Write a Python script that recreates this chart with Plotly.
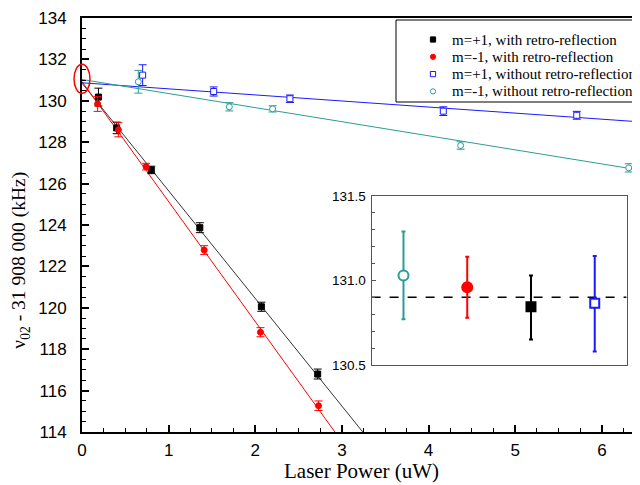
import plotly.graph_objects as go

# ---- data ----
x_p_with = [0.19, 0.40, 0.80, 1.36, 2.07, 2.72]
y_p_with = [130.18, 128.69, 126.66, 123.87, 120.05, 116.80]
e_p_with = [0.43, 0.28, 0.18, 0.24, 0.22, 0.24]

x_m_with = [0.18, 0.42, 0.74, 1.41, 2.06, 2.73]
y_m_with = [129.85, 128.60, 126.82, 122.79, 118.82, 115.27]
e_m_with = [0.36, 0.34, 0.16, 0.21, 0.22, 0.23]

x_p_without = [0.70, 1.52, 2.40, 4.17, 5.71]
y_p_without = [131.24, 130.45, 130.10, 129.50, 129.30]
e_p_without = [0.50, 0.22, 0.18, 0.21, 0.19]

x_m_without = [0.65, 1.70, 2.20, 4.37, 6.31]
y_m_without = [130.92, 129.71, 129.61, 127.84, 126.76]
e_m_without = [0.55, 0.20, 0.15, 0.18, 0.20]

# linear fits (intercept, slope)
fit_p_with = (130.85, -5.20)
fit_m_with = (130.93, -5.80)
fit_p_without = (130.87, -0.293)
fit_m_without = (131.03, -0.68)

# inset: zero-power intercepts
inset_x = [1, 2, 3, 4]
inset_y = [131.03, 130.96, 130.845, 130.865]
inset_hi = [131.29, 131.14, 131.03, 131.145]
inset_lo = [130.77, 130.78, 130.65, 130.58]
inset_mean = 130.90

labels = ["m=+1, with retro-reflection", "m=-1, with retro-reflection",
          "m=+1, without retro-reflection", "m=-1, without retro-reflection"]

x_title = "Laser Power (uW)"
y_title = "ν<sub>02</sub> - 31 908 000 (kHz)"

BLACK = "#000000"
BLACKLINE = "#333333"
RED = "#ff0000"
BLUE = "#1a1aff"
TEAL = "#2a9d97"

XMAX = 6.44
fig = go.Figure()

def fit_line(p, color):
    b, m = p
    xs = [0, XMAX]
    ys = [b + m * x for x in xs]
    fig.add_trace(go.Scatter(x=xs, y=ys, mode="lines", line=dict(color=color, width=1),
                             showlegend=False, hoverinfo="skip"))

fit_line(fit_p_with, BLACKLINE)
fit_line(fit_m_with, RED)
fit_line(fit_p_without, BLUE)
fit_line(fit_m_without, TEAL)

series_style = [("square", BLACK, BLACK), ("circle", RED, RED),
                ("square", BLUE, "white"), ("circle", TEAL, "white")]

def pts(x, y, e, name, style):
    symbol, color, fill = style
    fig.add_trace(go.Scatter(
        x=x, y=y, mode="markers", name=name, showlegend=False,
        marker=dict(symbol=symbol, size=6, color=fill, line=dict(color=color, width=1)),
        error_y=dict(type="data", array=e, visible=True, color=color, thickness=1, width=4),
    ))

pts(x_p_with, y_p_with, e_p_with, labels[0], series_style[0])
pts(x_m_with, y_m_with, e_m_with, labels[1], series_style[1])
pts(x_p_without, y_p_without, e_p_without, labels[2], series_style[2])
pts(x_m_without, y_m_without, e_m_without, labels[3], series_style[3])

# ---- inset ----
fig.add_trace(go.Scatter(x=[0.5, 4.5], y=[inset_mean, inset_mean], mode="lines",
                         line=dict(color="black", width=1.5, dash="dash"),
                         xaxis="x2", yaxis="y2", showlegend=False, hoverinfo="skip"))
inset_style = [("circle", TEAL, "white"), ("circle", RED, RED),
               ("square", BLACK, BLACK), ("square", BLUE, "white")]
for i in range(4):
    sym, col, fill = inset_style[i]
    fig.add_trace(go.Scatter(
        x=[inset_x[i]], y=[inset_y[i]], mode="markers", xaxis="x2", yaxis="y2",
        showlegend=False,
        marker=dict(symbol=sym, size=10 if sym == "circle" else 9, color=fill,
                    line=dict(color=col, width=2)),
        error_y=dict(type="data", symmetric=False,
                     array=[inset_hi[i] - inset_y[i]], arrayminus=[inset_y[i] - inset_lo[i]],
                     color=col, thickness=2, width=2),
    ))

SANS = "Liberation Sans"
SERIF = "Liberation Serif"

# ---- legend box (drawn in paper space so its compact row spacing matches) ----
PLOT_W, PLOT_H = 558.0, 414.0
def px_x(px):  # screen px -> paper x (plot area starts at 82)
    return (px - 82) / PLOT_W
def px_y(py):  # screen px -> paper y (plot area bottom at 432)
    return (432 - py) / PLOT_H

shapes = [dict(type="rect", xref="paper", yref="paper",
               x0=px_x(396), x1=px_x(660), y0=px_y(102), y1=px_y(20),
               fillcolor="white", line=dict(color="black", width=1), layer="above")]
annotations = []
row_y = [39.5, 56.8, 74.1, 91.4]
mk_x, half = 433, 2.6
for i, lab in enumerate(labels):
    sym, col, fill = series_style[i]
    shapes.append(dict(type="rect" if sym == "square" else "circle",
                       xref="paper", yref="paper",
                       x0=px_x(mk_x - half), x1=px_x(mk_x + half),
                       y0=px_y(row_y[i] + half), y1=px_y(row_y[i] - half),
                       fillcolor=fill, line=dict(color=col, width=1), layer="above"))
    annotations.append(dict(text=lab, xref="paper", yref="paper",
                            x=px_x(450), y=px_y(row_y[i]), xanchor="left", yanchor="middle",
                            showarrow=False,
                            font=dict(family=SERIF, size=15, color="black")))

# red ellipse around the zero-power intercept
shapes.append(dict(type="circle", xref="paper", yref="paper",
                   x0=-0.0143, x1=0.0143, y0=0.818, y1=0.888,
                   line=dict(color="red", width=1.5), layer="above"))

annotations += [
    dict(text=x_title, xref="paper", yref="paper", x=0.5, y=-0.094,
         xanchor="center", yanchor="middle", showarrow=False,
         font=dict(family=SERIF, size=21, color="black")),
    dict(text=y_title, xref="paper", yref="paper", x=-0.111, y=0.414,
         xanchor="center", yanchor="middle", showarrow=False, textangle=-90,
         font=dict(family=SERIF, size=19.5, color="black")),
]

# the page body adds an 8px offset; figure is sized so the plot area lands at x 82-640, y 18-432
fig.update_layout(
    width=632, height=477,
    margin=dict(l=74, r=0, t=10, b=53, autoexpand=False),
    paper_bgcolor="white", plot_bgcolor="white",
    font=dict(family=SANS, color="black"),
    showlegend=False,
    xaxis=dict(range=[0, XMAX], dtick=1, tick0=0, showgrid=False, zeroline=False,
               automargin=False,
               showline=True, linecolor="black", linewidth=2, mirror=True,
               ticks="inside", ticklen=7, tickwidth=1.5, tickcolor="black",
               minor=dict(dtick=0.25, ticks="inside", ticklen=4, tickwidth=1.2, tickcolor="black"),
               tickfont=dict(family=SANS, size=17), ticklabelstandoff=2),
    yaxis=dict(range=[114, 134], dtick=2, tick0=114, showgrid=False, zeroline=False,
               automargin=False,
               showline=True, linecolor="black", linewidth=2,
               ticks="inside", ticklen=7, tickwidth=1.5, tickcolor="black",
               minor=dict(dtick=0.5, ticks="inside", ticklen=4, tickwidth=1.2, tickcolor="black"),
               tickfont=dict(family=SANS, size=17), ticklabelstandoff=10),
    xaxis2=dict(domain=[0.519, 0.976], anchor="y2", range=[0.5, 4.5], automargin=False,
                showgrid=False, zeroline=False, showticklabels=False, ticks="",
                showline=True, linecolor="#555555", linewidth=1, mirror=True),
    yaxis2=dict(domain=[0.162, 0.570], anchor="x2", range=[130.5, 131.5], automargin=False,
                tickvals=[130.5, 131.0, 131.5], tickformat=".1f",
                showgrid=False, zeroline=False,
                showline=True, linecolor="#555555", linewidth=1, mirror=True,
                ticks="inside", ticklen=4, tickwidth=1, tickcolor="#555555",
                minor=dict(dtick=0.1, tick0=130.5, ticks="inside", ticklen=3, tickwidth=1,
                           tickcolor="#555555"),
                tickfont=dict(family=SANS, size=13.5), ticklabelstandoff=2),
    shapes=shapes,
    annotations=annotations,
)

fig.write_html("out.html")
